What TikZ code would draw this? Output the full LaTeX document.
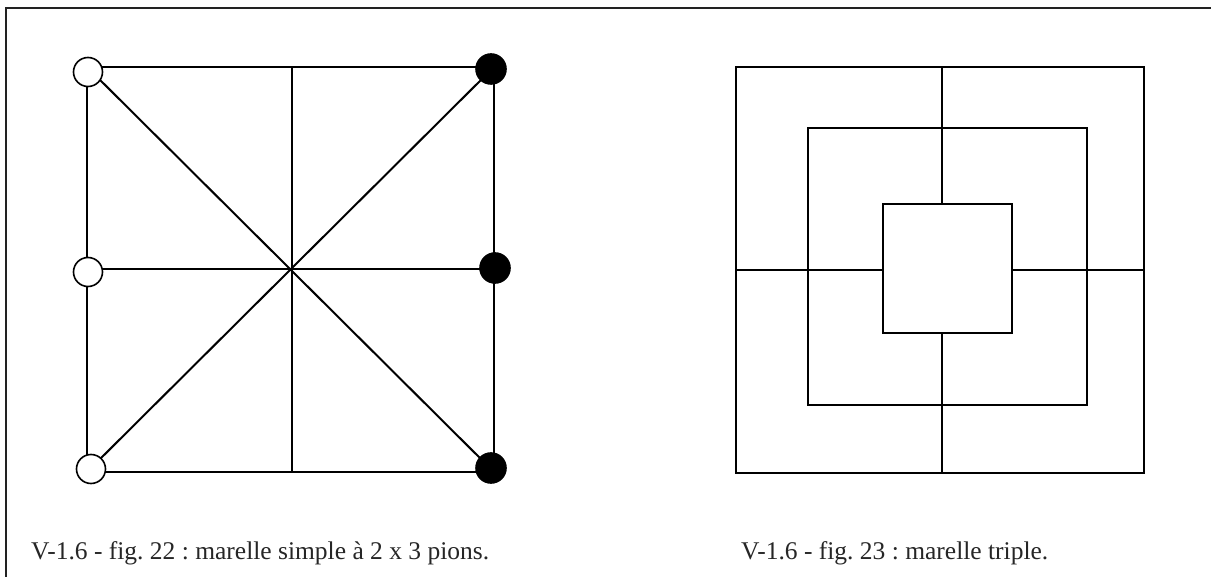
\documentclass[tikz,border=0pt]{standalone}
\usepackage{fontspec}
\setmainfont{Liberation Serif}
\usetikzlibrary{positioning}
\definecolor{framegray}{HTML}{222222}
\frenchspacing
\tikzset{
    board/.style={line width=2pt, black},
    pawnw/.style={circle, draw, line width=1.6pt, fill=white, minimum size=29pt, inner sep=0pt},
    pawnb/.style={circle, draw, line width=1.6pt, fill=black, minimum size=30pt, inner sep=0pt},
    caption/.style={anchor=base west, inner sep=0pt, font=\fontsize{25.5}{30}\selectfont, text=black!85}
}
\begin{document}
\begin{tikzpicture}[x=1pt, y=-1pt]
    \useasboundingbox (0,0) rectangle (1211,577);
    % frame
    \draw[line width=2.8pt, framegray] (6,577) -- (6,8) -- (1211,8);

    % marelle simple
    \coordinate (tl) at (87,67);
    \coordinate (tr) at (494,67);
    \coordinate (bl) at (87,472);
    \coordinate (br) at (494,472);
    \coordinate (ml) at (87,269);
    \coordinate (mr) at (494,269);
    \coordinate (mt) at (292,67);
    \coordinate (mb) at (292,472);
    \draw[board] (tl) -- (tr) -- (br) -- (bl) -- cycle;
    \draw[board] (tl) -- (br);
    \draw[board] (tr) -- (bl);
    \draw[board] (ml) -- (mr);
    \draw[board] (mt) -- (mb);

    \node[pawnw] (w1) at (88,72) {};
    \node[pawnw] (w2) at (88,272) {};
    \node[pawnw] (w3) at (91,469) {};
    \node[pawnb] (b1) at (491,69) {};
    \node[pawnb] (b2) at (495,268) {};
    \node[pawnb] (b3) at (491,468) {};

    % marelle triple
    \coordinate (o1) at (736,67);
    \coordinate (o2) at (1144,473);
    \coordinate (m1) at (808,128);
    \coordinate (m2) at (1087,405);
    \coordinate (i1) at (883,204);
    \coordinate (i2) at (1012,333);
    \draw[board] (o1) rectangle (o2);
    \draw[board] (m1) rectangle (m2);
    \draw[board] (i1) rectangle (i2);
    \coordinate (vt) at (942,67);
    \coordinate (vt2) at (942,204);
    \coordinate (vb) at (942,473);
    \coordinate (vb2) at (942,333);
    \coordinate (hl) at (736,270);
    \coordinate (hl2) at (883,270);
    \coordinate (hr) at (1144,270);
    \coordinate (hr2) at (1012,270);
    \draw[board] (vt) -- (vt2);
    \draw[board] (vb2) -- (vb);
    \draw[board] (hl) -- (hl2);
    \draw[board] (hr2) -- (hr);

    % legendes
    \node[caption] (cap22) at (31,559) {V-1.6 - fig. 22 : marelle simple à 2 x 3 pions.};
    \node[caption] (cap23) at (741,559) {V-1.6 - fig. 23 : marelle triple.};
\end{tikzpicture}
\end{document}
